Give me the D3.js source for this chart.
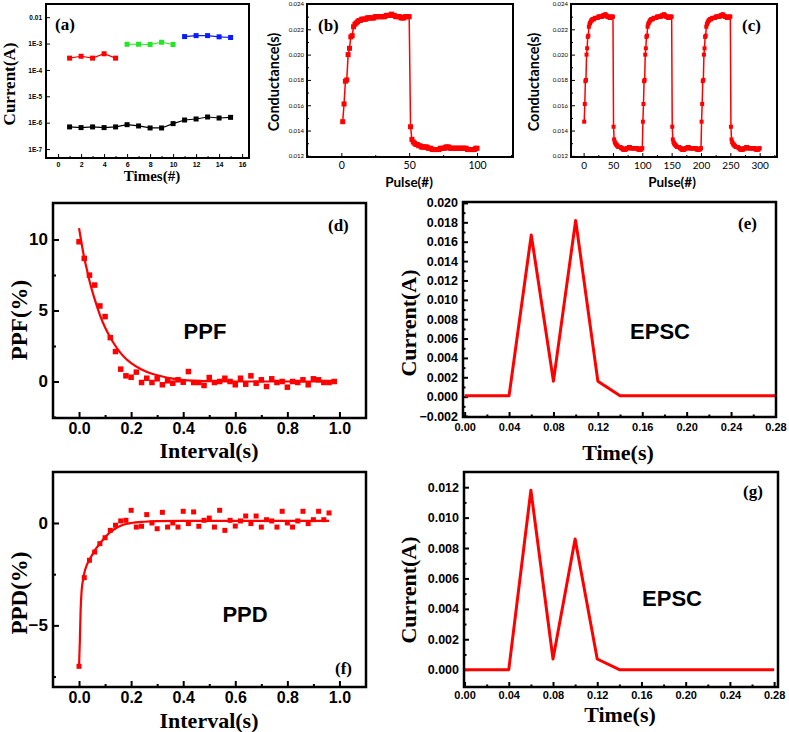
<!DOCTYPE html>
<html>
<head>
<meta charset="utf-8">
<script src="https://cdn.jsdelivr.net/npm/d3@7"></script>
<style>
    body { margin: 0; background: #fff; }
    svg { display: block; }
    .frame { fill: none; stroke: #000; }
    .axis path { display: none; }
    .axis line { stroke: #000; }
</style>
</head>
<body>
<svg id="fig" width="789" height="732"></svg>
<script>

// ---- (a) retention, four current states ----
const timesA   = [1, 2, 3, 4, 5, 6, 7, 8, 9, 10, 11, 12, 13, 14, 15];
const redA     = [2.8e-4, 3.3e-4, 2.8e-4, 4.1e-4, 2.8e-4];
const greenA   = [9.4e-4, 9.4e-4, 9.2e-4, 1.12e-3, 9.2e-4];
const blueA    = [1.84e-3, 2.0e-3, 2.0e-3, 1.8e-3, 1.7e-3];
const blackA   = [6.9e-7, 6.5e-7, 6.9e-7, 6.5e-7, 6.9e-7, 8.4e-7, 7.5e-7, 6.3e-7,
                  6.3e-7, 9.2e-7, 1.26e-6, 1.38e-6, 1.64e-6, 1.5e-6, 1.59e-6];
const yTicksA  = [1e-7, 1e-6, 1e-5, 1e-4, 1e-3, 1e-2];
const yLabelsA = ['1E-7', '1E-6', '1E-5', '1E-4', '1E-3', '0.01'];

// ---- (b) one potentiation / depression cycle, pulses 1..100 ----
const condB = [
    0.0147, 0.0161, 0.0179, 0.0180, 0.0200, 0.0205, 0.0214, 0.0215, 0.0222, 0.0224,
    0.0225, 0.0226, 0.0227, 0.0227, 0.0228, 0.0228, 0.0228, 0.0228, 0.0229, 0.0229,
    0.0229, 0.0229, 0.0229, 0.0229, 0.0230, 0.0230, 0.0230, 0.0230, 0.0230, 0.0230,
    0.0230, 0.0230, 0.0231, 0.0231, 0.0231, 0.0231, 0.0232, 0.0231, 0.0231, 0.0230,
    0.0230, 0.0230, 0.0230, 0.0229, 0.0229, 0.0229, 0.0230, 0.0230, 0.0230, 0.0230,
    0.0143, 0.0133, 0.0131, 0.0130, 0.0129, 0.0129, 0.0128, 0.0128, 0.0127, 0.0127,
    0.0127, 0.0127, 0.0127, 0.0126, 0.0126, 0.0126, 0.0125, 0.0125, 0.0125, 0.0125,
    0.0125, 0.0125, 0.0126, 0.0126, 0.0126, 0.0126, 0.0127, 0.0127, 0.0127, 0.0126,
    0.0126, 0.0126, 0.0126, 0.0126, 0.0126, 0.0126, 0.0126, 0.0126, 0.0126, 0.0126,
    0.0126, 0.0126, 0.0125, 0.0125, 0.0125, 0.0125, 0.0125, 0.0125, 0.0126, 0.0126
];
const condTicks = [0.012, 0.014, 0.016, 0.018, 0.020, 0.022, 0.024];

// ---- (c) the same cycle measured three times, pulses 1..300 ----
const condC = condB.concat(condB, condB);

// ---- (d) paired pulse facilitation ----
const intervalD = [0.00, 0.02, 0.04, 0.06, 0.08, 0.10, 0.12, 0.14, 0.16, 0.18,
                   0.20, 0.22, 0.24, 0.26, 0.28, 0.30, 0.32, 0.34, 0.36, 0.38,
                   0.40, 0.42, 0.44, 0.46, 0.48, 0.50, 0.52, 0.54, 0.56, 0.58,
                   0.60, 0.62, 0.64, 0.66, 0.68, 0.70, 0.72, 0.74, 0.76, 0.78,
                   0.80, 0.82, 0.84, 0.86, 0.88, 0.90, 0.92, 0.94, 0.96, 0.98];
const ppf = [9.84, 8.67, 7.49, 6.79, 5.32, 4.57, 3.09, 2.11, 0.87, 0.40,
             0.30, 0.66, -0.07, 0.23, -0.07, 0.19, -0.23, 0.05, -0.12, 0.12,
             -0.05, 0.70, -0.07, -0.07, -0.28, 0.28, -0.07, 0.00, 0.23, 0.00,
             -0.23, 0.23, -0.19, 0.40, -0.12, 0.12, -0.35, 0.19, -0.07, 0.00,
             -0.40, 0.00, -0.07, 0.12, -0.23, 0.19, 0.12, -0.07, -0.07, 0.00];
const ppfFitX = [0, 0.01, 0.02, 0.03, 0.04, 0.06, 0.08, 0.10, 0.12, 0.14, 0.16, 0.18,
                 0.20, 0.24, 0.28, 0.32, 0.36, 0.40, 0.50, 0.60, 0.70, 0.80, 0.90, 0.98];
const ppfFitY = [10.8, 9.7, 8.7, 7.9, 7.1, 5.8, 4.7, 3.8, 3.1, 2.5, 2.0, 1.6,
                 1.3, 0.85, 0.55, 0.35, 0.2, 0.1, 0.02, 0, 0, 0, 0, 0];

// ---- (f) paired pulse depression ----
const intervalF = [0.00, 0.02, 0.04, 0.06, 0.08, 0.10, 0.12, 0.14, 0.16, 0.18,
                   0.20, 0.22, 0.24, 0.26, 0.28, 0.30, 0.32, 0.34, 0.36, 0.38,
                   0.40, 0.42, 0.44, 0.46, 0.48, 0.50, 0.52, 0.54, 0.56, 0.58,
                   0.60, 0.62, 0.64, 0.66, 0.68, 0.70, 0.72, 0.74, 0.76, 0.78,
                   0.80, 0.82, 0.84, 0.86, 0.88, 0.90, 0.92, 0.94, 0.96];
const ppd = [-7.0, -2.67, -1.82, -1.42, -1.01, -0.72, -0.36, -0.11, 0.10, 0.13,
             0.62, -0.20, -0.16, 0.41, 0.00, -0.28, 0.52, -0.20, 0.00, -0.20,
             0.57, -0.03, 0.54, -0.16, 0.13, 0.24, -0.20, 0.62, -0.36, 0.13,
             -0.15, 0.10, 0.34, -0.03, 0.34, -0.20, 0.16, 0.10, -0.20, 0.57,
             0.00, -0.20, 0.10, 0.57, -0.03, 0.16, 0.57, 0.16, 0.49];
const ppdFitX = [0, 0.003, 0.006, 0.01, 0.015, 0.02, 0.03, 0.04, 0.06, 0.08, 0.10,
                 0.12, 0.14, 0.16, 0.18, 0.20, 0.25, 0.30, 0.40, 0.60, 0.80, 0.96];
const ppdFitY = [-7.0, -5.8, -4.3, -3.3, -2.8, -2.45, -2.05, -1.8, -1.35, -1.0, -0.7,
                 -0.45, -0.27, -0.14, -0.05, 0.0, 0.06, 0.09, 0.1, 0.1, 0.1, 0.1];

// ---- (e), (g) EPSC under two paired spikes ----
const timeEPSC = [0, 0.04, 0.06, 0.08, 0.10, 0.12, 0.14, 0.28];
const currE    = [0.0001, 0.0001, 0.0167, 0.0016, 0.0182, 0.0016, 0.0001, 0.0001];
const currG    = [0.0000, 0.0000, 0.0118, 0.0007, 0.0086, 0.0007, 0.0000, 0.0000];
const timeTicks = [0, 0.04, 0.08, 0.12, 0.16, 0.20, 0.24, 0.28];

const RED = '#ff0000';
const SERIF = '"Liberation Serif", "Times New Roman", serif';
const ARIAL = '"Liberation Sans", Arial, sans-serif';
const CALI  = 'Lato, "Open Sans", sans-serif';

const svg = d3.select('#fig');

// Set up one panel: group, scales, size.
function makePanel(box, xDom, yDom, yScale) {
    let w = box.right - box.left;
    let h = box.bottom - box.top;
    let g = svg.append('g').attr('transform', 'translate(' + box.left + ',' + box.top + ')');
    let x = d3.scaleLinear().domain(xDom).range([0, w]);
    let y = (yScale || d3.scaleLinear()).domain(yDom).range([h, 0]);
    return {g: g, x: x, y: y, w: w, h: h};
}

// Inward ticks on the bottom and left, Origin style.
function drawAxes(p, o) {
    let xg = p.g.append('g').attr('class', 'axis')
        .attr('transform', 'translate(0,' + p.h + ')')
        .call(d3.axisBottom(p.x).tickValues(o.xMajor).tickSize(-o.tick)
              .tickPadding(o.xPad).tickFormat(o.xFmt));
    xg.attr('font-family', o.font).attr('font-size', o.xSize).attr('font-weight', o.weight);
    xg.selectAll('line').attr('stroke-width', o.tickW);
    if (o.xMinor) {
        p.g.append('g').attr('class', 'axis')
            .attr('transform', 'translate(0,' + p.h + ')')
            .call(d3.axisBottom(p.x).tickValues(o.xMinor).tickSize(-o.tick / 2).tickFormat(''))
            .selectAll('line').attr('stroke-width', o.tickW);
    }
    let yg = p.g.append('g').attr('class', 'axis')
        .call(d3.axisLeft(p.y).tickValues(o.yMajor).tickSize(-o.tick)
              .tickPadding(o.yPad).tickFormat(o.yFmt));
    yg.attr('font-family', o.font).attr('font-size', o.ySize).attr('font-weight', o.weight);
    yg.selectAll('line').attr('stroke-width', o.tickW);
    if (o.yMinor) {
        p.g.append('g').attr('class', 'axis')
            .call(d3.axisLeft(p.y).tickValues(o.yMinor).tickSize(-o.tick / 2).tickFormat(''))
            .selectAll('line').attr('stroke-width', o.tickW);
    }
}

function drawFrame(p, sw) {
    p.g.append('rect').attr('class', 'frame')
        .attr('width', p.w).attr('height', p.h)
        .attr('stroke-width', sw);
}

function text(str, x, y, font, size, opts) {
    opts = opts || {};
    let t = svg.append('text')
        .attr('x', x).attr('y', y)
        .attr('font-family', font)
        .attr('font-size', size)
        .attr('font-weight', opts.weight || 'bold')
        .attr('text-anchor', opts.anchor || 'start')
        .text(str);
    if (opts.rotate) t.attr('transform', 'rotate(-90,' + x + ',' + y + ')');
    return t;
}

// Line + square markers.
function series(p, xs, ys, color, size, lw) {
    let pts = xs.map((d, i) => [d, ys[i]]);
    p.g.append('path')
        .attr('d', d3.line().x(d => p.x(d[0])).y(d => p.y(d[1]))(pts))
        .attr('fill', 'none').attr('stroke', color).attr('stroke-width', lw);
    p.g.append('g').selectAll('rect').data(pts).join('rect')
        .attr('x', d => p.x(d[0]) - size / 2)
        .attr('y', d => p.y(d[1]) - size / 2)
        .attr('width', size).attr('height', size)
        .attr('fill', color);
}

function scatter(p, xs, ys, color, size) {
    p.g.append('g').selectAll('rect').data(xs).join('rect')
        .attr('x', (d, i) => p.x(d) - size / 2)
        .attr('y', (d, i) => p.y(ys[i]) - size / 2)
        .attr('width', size).attr('height', size)
        .attr('fill', color);
}

// Plain line, smoothed only for the fitted curves.
function curve(p, xs, ys, color, lw, smooth) {
    let pts = xs.map((d, i) => [d, ys[i]]);
    let line = d3.line().x(d => p.x(d[0])).y(d => p.y(d[1]));
    if (smooth) line.curve(d3.curveMonotoneX);
    p.g.append('path')
        .attr('d', line(pts))
        .attr('fill', 'none').attr('stroke', color).attr('stroke-width', lw)
        .attr('stroke-linejoin', 'round');
}

// ================= (a) =================
let pa = makePanel({left: 46, right: 249, top: 4, bottom: 158},
                   [-1.05, 16.6], [Math.pow(10, -7.34), Math.pow(10, -1.5)], d3.scaleLog());
drawAxes(pa, {
    xMajor: d3.range(0, 17, 2), xMinor: d3.range(1, 17, 2), xFmt: d3.format('d'),
    yMajor: yTicksA, yFmt: (d, i) => yLabelsA[i],
    tick: 4, tickW: 1, xPad: 4, yPad: 4, font: ARIAL, weight: 'bold', xSize: 7, ySize: 6.5
});
series(pa, timesA, blackA, '#000', 5, 1.2);
series(pa, timesA.slice(0, 5), redA, RED, 5, 1.2);
series(pa, timesA.slice(5, 10), greenA, '#22e822', 5, 1.2);
series(pa, timesA.slice(10, 15), blueA, '#0a1aff', 5, 1.2);
drawFrame(pa, 2);
text('(a)', 55, 30, SERIF, 17);
text('Current(A)', 15, 84, SERIF, 17, {anchor: 'middle', rotate: true});
text('Times(#)', 152, 181, SERIF, 15, {anchor: 'middle'});

// ================= (b) =================
let pulseB = d3.range(1, 101);
let pb = makePanel({left: 307, right: 513, top: 4, bottom: 157}, [-25.3, 126.5], [0.01191, 0.0240]);
drawAxes(pb, {
    xMajor: [0, 50, 100], xMinor: [-25, 25, 75, 125], xFmt: d3.format('d'),
    yMajor: condTicks, yMinor: [0.013, 0.015, 0.017, 0.019, 0.021, 0.023], yFmt: d3.format('.3f'),
    tick: 4, tickW: 1, xPad: 5, yPad: 3, font: CALI, weight: 'normal', xSize: 10.5, ySize: 6
});
series(pb, pulseB, condB, RED, 5, 1.5);
drawFrame(pb, 2);
text('(b)', 318, 31, SERIF, 17);
text('Conductance(s)', 279, 82, CALI, 14.5, {anchor: 'middle', rotate: true});
text('Pulse(#)', 409, 187, CALI, 13.5, {anchor: 'middle'});

// ================= (c) =================
let pulseC = d3.range(1, 301);
let pc = makePanel({left: 571, right: 777, top: 4, bottom: 157}, [-21.5, 329.5], [0.01191, 0.0240]);
drawAxes(pc, {
    xMajor: d3.range(0, 301, 50), xMinor: d3.range(25, 330, 50), xFmt: d3.format('d'),
    yMajor: condTicks, yMinor: [0.013, 0.015, 0.017, 0.019, 0.021, 0.023], yFmt: d3.format('.3f'),
    tick: 4, tickW: 1, xPad: 5, yPad: 3, font: CALI, weight: 'normal', xSize: 10, ySize: 6
});
series(pc, pulseC, condC, RED, 4, 1.5);
drawFrame(pc, 2);
text('(c)', 742, 31, SERIF, 17);
text('Conductance(s)', 539, 82, CALI, 14.5, {anchor: 'middle', rotate: true});
text('Pulse(#)', 672, 187, CALI, 13.5, {anchor: 'middle'});

// ================= (d) =================
let pd = makePanel({left: 53, right: 366, top: 203, bottom: 418}, [-0.1, 1.102], [-2.57, 12.57]);
drawAxes(pd, {
    xMajor: [0, 0.2, 0.4, 0.6, 0.8, 1.0], xMinor: [0.1, 0.3, 0.5, 0.7, 0.9], xFmt: d3.format('.1f'),
    yMajor: [0, 5, 10], yMinor: [-2.5, 2.5, 7.5], yFmt: d3.format('d'),
    tick: 6, tickW: 2, xPad: 5, yPad: 5, font: ARIAL, weight: 'bold', xSize: 16, ySize: 17
});
scatter(pd, intervalD, ppf, RED, 5.5);
curve(pd, ppfFitX, ppfFitY, RED, 2.2, true);
drawFrame(pd, 2.5);
text('(d)', 328, 231, SERIF, 17);
text('PPF', 205, 339, ARIAL, 22, {anchor: 'middle'});
text('PPF(%)', 27, 320, SERIF, 23, {anchor: 'middle', rotate: true});
text('Interval(s)', 209, 458, SERIF, 22, {anchor: 'middle'});

// ================= (f) =================
let pf = makePanel({left: 53, right: 366, top: 472, bottom: 687}, [-0.1, 1.102], [-8.01, 2.49]);
drawAxes(pf, {
    xMajor: [0, 0.2, 0.4, 0.6, 0.8, 1.0], xMinor: [0.1, 0.3, 0.5, 0.7, 0.9], xFmt: d3.format('.1f'),
    yMajor: [-5, 0], yMinor: [-7.5, -2.5], yFmt: d3.format('d'),
    tick: 6, tickW: 2, xPad: 5, yPad: 5, font: ARIAL, weight: 'bold', xSize: 16, ySize: 17
});
scatter(pf, intervalF, ppd, RED, 5);
curve(pf, ppdFitX, ppdFitY, RED, 2.2, true);
drawFrame(pf, 2.5);
text('(f)', 335, 674, SERIF, 17);
text('PPD', 245, 622, ARIAL, 22, {anchor: 'middle'});
text('PPD(%)', 27, 593, SERIF, 23, {anchor: 'middle', rotate: true});
text('Interval(s)', 209, 728, SERIF, 22, {anchor: 'middle'});

// ================= (e) =================
let pe = makePanel({left: 463, right: 776, top: 202, bottom: 417}, [-0.0015, 0.2805], [-0.0021, 0.0201]);
drawAxes(pe, {
    xMajor: timeTicks, xMinor: d3.range(0.02, 0.28, 0.04), xFmt: d3.format('.2f'),
    yMajor: d3.range(-0.002, 0.0201, 0.002), yMinor: d3.range(-0.001, 0.02, 0.002), yFmt: d3.format('.3f'),
    tick: 5, tickW: 2, xPad: 6, yPad: 5, font: ARIAL, weight: 'bold', xSize: 11, ySize: 12.5
});
curve(pe, timeEPSC, currE, RED, 3, false);
drawFrame(pe, 2.5);
text('(e)', 738, 229, SERIF, 17);
text('EPSC', 660, 339, ARIAL, 22, {anchor: 'middle'});
text('Current(A)', 416, 323, SERIF, 22, {anchor: 'middle', rotate: true});
text('Time(s)', 618, 460, SERIF, 22, {anchor: 'middle'});

// ================= (g) =================
let pg = makePanel({left: 464, right: 778, top: 472, bottom: 687}, [-0.0005, 0.2835], [-0.00114, 0.0130]);
drawAxes(pg, {
    xMajor: timeTicks, xMinor: d3.range(0.02, 0.28, 0.04), xFmt: d3.format('.2f'),
    yMajor: d3.range(0, 0.0121, 0.002), yMinor: d3.range(0.001, 0.013, 0.002), yFmt: d3.format('.3f'),
    tick: 5, tickW: 2, xPad: 4, yPad: 5, font: ARIAL, weight: 'bold', xSize: 11, ySize: 12.5
});
curve(pg, timeEPSC, currG, RED, 3, false);
drawFrame(pg, 2.5);
text('(g)', 743, 497, SERIF, 17);
text('EPSC', 672, 606, ARIAL, 22, {anchor: 'middle'});
text('Current(A)', 416, 590, SERIF, 22, {anchor: 'middle', rotate: true});
text('Time(s)', 620, 722, SERIF, 22, {anchor: 'middle'});

</script>
</body>
</html>
